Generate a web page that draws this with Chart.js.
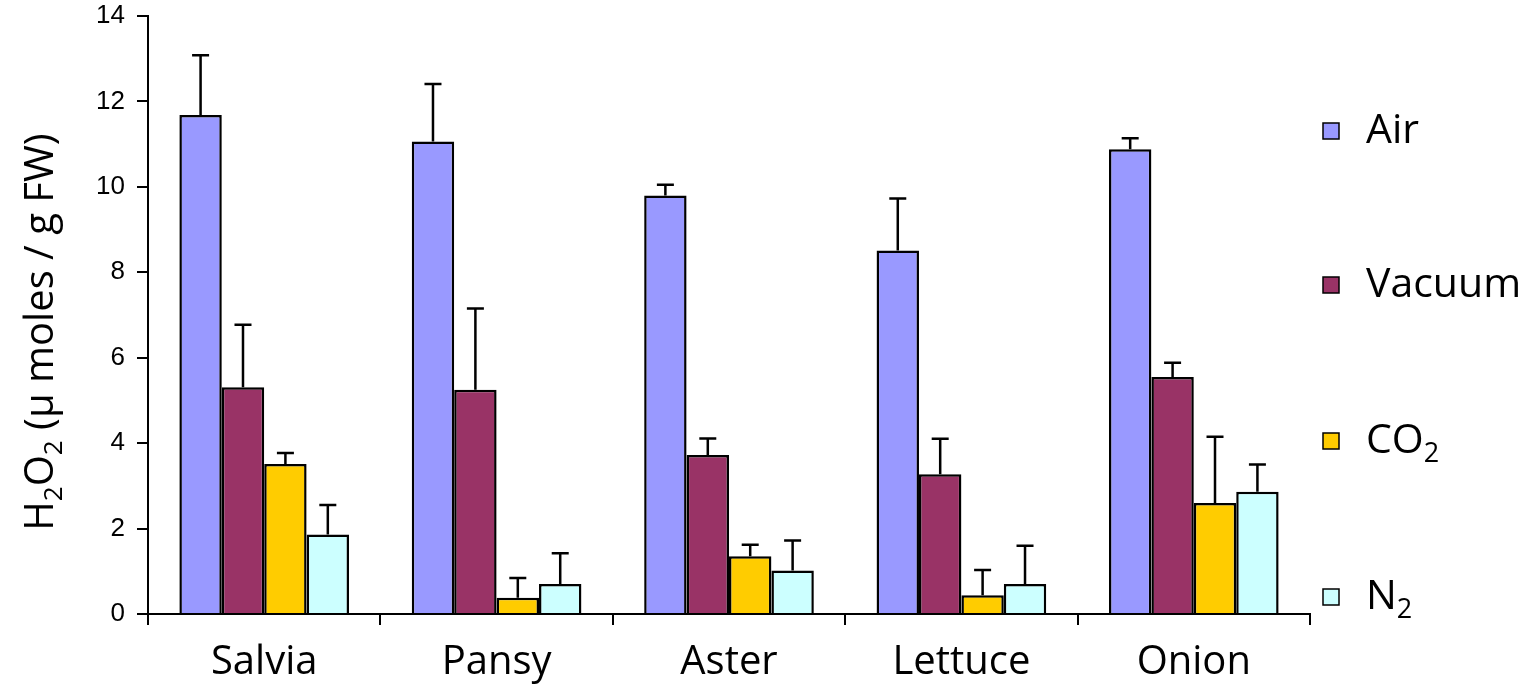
<!DOCTYPE html>
<html>
<head>
<meta charset="utf-8">
<script src="https://cdn.jsdelivr.net/npm/chart.js@4.4.0/dist/chart.umd.min.js"></script>
<style>
  html, body { margin: 0; padding: 0; background: #fff; }
</style>
</head>
<body>
<canvas id="chart" width="1526" height="684"></canvas>
<script>
// data (mean + upper error bar)
const categories = ['Salvia', 'Pansy', 'Aster', 'Lettuce', 'Onion'];
const airValues = [11.68, 11.06, 9.80, 8.51, 10.88];
const airErrors = [1.40, 1.35, 0.25, 1.22, 0.26];
const vacuumValues = [5.31, 5.25, 3.72, 3.27, 5.55];
const vacuumErrors = [1.46, 1.90, 0.39, 0.83, 0.33];
const co2Values = [3.51, 0.38, 1.35, 0.44, 2.60];
const co2Errors = [0.26, 0.46, 0.27, 0.59, 1.55];
const n2Values = [1.86, 0.70, 1.02, 0.70, 2.86];
const n2Errors = [0.69, 0.72, 0.70, 0.90, 0.64];
const yTicks = [0, 2, 4, 6, 8, 10, 12, 14];

const FONT = '"Open Sans", "Noto Sans", sans-serif';

// text with subscripts: parts = [[text, isSub], ...]
function richWidth(ctx, parts, size) {
  let w = 0;
  parts.forEach(([t, sub]) => {
    ctx.font = (sub ? Math.round(size * 0.65) : size) + 'px ' + FONT;
    w += ctx.measureText(t).width;
  });
  return w;
}
function drawRich(ctx, parts, x, y, size) {
  let cx = x;
  parts.forEach(([t, sub]) => {
    ctx.font = (sub ? Math.round(size * 0.65) : size) + 'px ' + FONT;
    ctx.fillText(t, cx, sub ? y + size * 0.22 : y);
    cx += ctx.measureText(t).width;
  });
}

const errorBars = {
  id: 'errorBars',
  afterDatasetsDraw(chart) {
    const ctx = chart.ctx;
    const y = chart.scales.y;
    ctx.save();
    ctx.strokeStyle = '#000';
    ctx.lineWidth = 2.5;
    chart.data.datasets.forEach((ds, i) => {
      chart.getDatasetMeta(i).data.forEach((bar, j) => {
        const top = y.getPixelForValue(ds.data[j] + ds.errors[j]);
        ctx.beginPath();
        ctx.moveTo(bar.x, bar.y);
        ctx.lineTo(bar.x, top);
        ctx.moveTo(bar.x - 8.5, top);
        ctx.lineTo(bar.x + 8.5, top);
        ctx.stroke();
      });
    });
    ctx.restore();
  }
};

const yTitle = {
  id: 'yTitle',
  afterDraw(chart) {
    const ctx = chart.ctx;
    const parts = [['H'], ['2', true], ['O'], ['2', true], [' (\u00b5 moles / g FW)']];
    ctx.save();
    ctx.fillStyle = '#000';
    ctx.textBaseline = 'alphabetic';
    ctx.translate(53, 332);
    ctx.rotate(-Math.PI / 2);
    const w = richWidth(ctx, parts, 40);
    drawRich(ctx, parts, -w / 2, 0, 40);
    ctx.restore();
  }
};

const sideLegend = {
  id: 'sideLegend',
  afterDraw(chart) {
    const ctx = chart.ctx;
    const texts = [[['Air']], [['Vacuum']], [['CO'], ['2', true]], [['N'], ['2', true]]];
    const rows = [131, 285, 441, 597];
    ctx.save();
    chart.data.datasets.forEach((ds, i) => {
      const cy = rows[i];
      ctx.fillStyle = ds.backgroundColor;
      ctx.fillRect(1323, cy - 8, 16, 16);
      ctx.strokeStyle = '#000';
      ctx.lineWidth = 1.5;
      ctx.strokeRect(1323, cy - 8, 16, 16);
      ctx.fillStyle = '#000';
      ctx.textBaseline = 'alphabetic';
      drawRich(ctx, texts[i], 1366, cy + 12, 41);
    });
    ctx.restore();
  }
};

new Chart(document.getElementById('chart'), {
  type: 'bar',
  data: {
    labels: categories,
    datasets: [
      { label: 'Air', data: airValues, errors: airErrors, backgroundColor: '#9999FF' },
      { label: 'Vacuum', data: vacuumValues, errors: vacuumErrors, backgroundColor: '#993366' },
      { label: 'CO2', data: co2Values, errors: co2Errors, backgroundColor: '#FFCC00' },
      { label: 'N2', data: n2Values, errors: n2Errors, backgroundColor: '#CCFFFF' }
    ]
  },
  options: {
    responsive: false,
    animation: false,
    layout: { padding: { top: 16, right: 216, left: 0, bottom: 0 } },
    datasets: {
      bar: { categoryPercentage: 0.73, barPercentage: 1.0, borderColor: '#000', borderWidth: 2.5 }
    },
    plugins: { legend: { display: false }, tooltip: { enabled: false } },
    scales: {
      x: {
        grid: { drawOnChartArea: false, offset: true, tickLength: 11, color: '#000', lineWidth: 2 },
        border: { color: '#000', width: 2 },
        ticks: { color: '#000', font: { family: FONT, size: 40 }, padding: 14 },
        afterFit(s) { s.height = 70; s.paddingLeft = 0; s.paddingRight = 0; }
      },
      y: {
        min: 0,
        max: 14,
        afterBuildTicks(s) { s.ticks = yTicks.map(v => ({ value: v })); },
        grid: { drawOnChartArea: false, tickLength: 11, color: '#000', lineWidth: 2 },
        border: { color: '#000', width: 2 },
        ticks: { color: '#000', font: { family: '"Liberation Sans", Arial, sans-serif', size: 26 }, padding: 12 },
        afterFit(s) { s.width = 148; s.paddingTop = 0; s.paddingBottom = 0; }
      }
    }
  },
  plugins: [errorBars, yTitle, sideLegend]
});
</script>
</body>
</html>
